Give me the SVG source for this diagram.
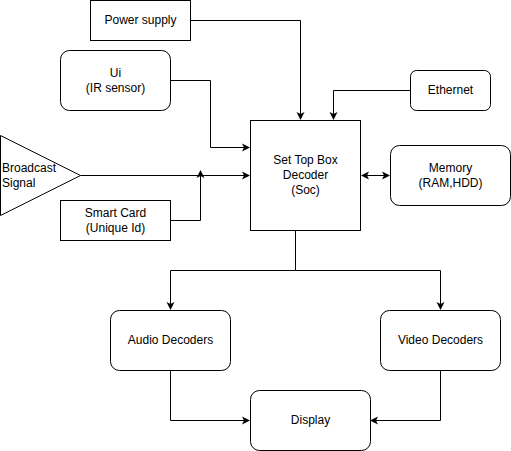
<svg xmlns="http://www.w3.org/2000/svg" width="511" height="451" viewBox="0 0 511 451">
<style>
.n{fill:#fff;stroke:#000;stroke-width:1}
.t{font-family:"Liberation Sans",Arial,sans-serif;font-size:12px;fill:#000;text-anchor:middle}
.c{fill:none;stroke:#000;stroke-width:1}
</style>
<defs>
<marker id="a" markerWidth="10" markerHeight="10" refX="7" refY="4" orient="auto" markerUnits="userSpaceOnUse" viewBox="0 0 10 8">
<path d="M0,0 L8,4 L0,8 L2,4 Z" fill="#000"/>
</marker>
<marker id="s" markerWidth="10" markerHeight="10" refX="1" refY="4" orient="auto" markerUnits="userSpaceOnUse" viewBox="0 0 10 8">
<path d="M8,0 L0,4 L8,8 L6,4 Z" fill="#000"/>
</marker>
</defs>
<rect width="511" height="451" fill="#fff"/>
<g id="connectors">
<path class="c" d="M190.5,20.5 H300.5 V119" marker-end="url(#a)"/>
<path class="c" d="M170.5,80.5 H210.5 V147.5 H249" marker-end="url(#a)"/>
<path class="c" d="M80.5,175.5 H249" marker-end="url(#a)"/>
<path class="c" d="M170.5,220.5 H200.5 V171" marker-end="url(#a)"/>
<path class="c" d="M410.5,90.5 H333.5 V119" marker-end="url(#a)"/>
<path class="c" d="M362,175.5 H389" marker-start="url(#s)" marker-end="url(#a)"/>
<path class="c" d="M295.5,230.5 V270.5 H170.5 V309" marker-end="url(#a)"/>
<path class="c" d="M295.5,270.5 H440.5 V309" marker-end="url(#a)"/>
<path class="c" d="M170.5,370.5 V420.5 H249" marker-end="url(#a)"/>
<path class="c" d="M440.5,370.5 V420.5 H371" marker-end="url(#a)"/>
</g>
<g id="power">
<rect class="n" x="90.5" y="0.5" width="100" height="40"/>
<text class="t" x="140.5" y="24">Power supply</text>
</g>
<g id="ui">
<rect class="n" x="60.5" y="50.5" width="110" height="60" rx="9"/>
<text class="t" x="115.5" y="77">Ui</text>
<text class="t" x="115.5" y="92">(IR sensor)</text>
</g>
<g id="broadcast">
<path class="n" d="M0.5,135.5 L80.5,175.5 L0.5,215.5 Z"/>
<text x="2" y="172" style="font-family:'Liberation Sans',Arial,sans-serif;font-size:12px">Broadcast</text>
<text x="2" y="187" style="font-family:'Liberation Sans',Arial,sans-serif;font-size:12px">Signal</text>
</g>
<g id="smartcard">
<rect class="n" x="60.5" y="200.5" width="110" height="40"/>
<text class="t" x="115.5" y="217">Smart Card</text>
<text class="t" x="115.5" y="232">(Unique Id)</text>
</g>
<g id="soc">
<rect class="n" x="250.5" y="120.5" width="110" height="110"/>
<text class="t" x="305.5" y="164">Set Top Box</text>
<text class="t" x="305.5" y="179">Decoder</text>
<text class="t" x="305.5" y="194">(Soc)</text>
</g>
<g id="ethernet">
<rect class="n" x="410.5" y="70.5" width="80" height="40" rx="6"/>
<text class="t" x="450.5" y="94">Ethernet</text>
</g>
<g id="memory">
<rect class="n" x="390.5" y="145.5" width="120" height="60" rx="9"/>
<text class="t" x="450.5" y="172">Memory</text>
<text class="t" x="450.5" y="187">(RAM,HDD)</text>
</g>
<g id="audio">
<rect class="n" x="110.5" y="310.5" width="120" height="60" rx="9"/>
<text class="t" x="170.5" y="344">Audio Decoders</text>
</g>
<g id="video">
<rect class="n" x="380.5" y="310.5" width="120" height="60" rx="9"/>
<text class="t" x="440.5" y="344">Video Decoders</text>
</g>
<g id="display">
<rect class="n" x="250.5" y="390.5" width="120" height="60" rx="9"/>
<text class="t" x="310.5" y="424">Display</text>
</g>
</svg>
